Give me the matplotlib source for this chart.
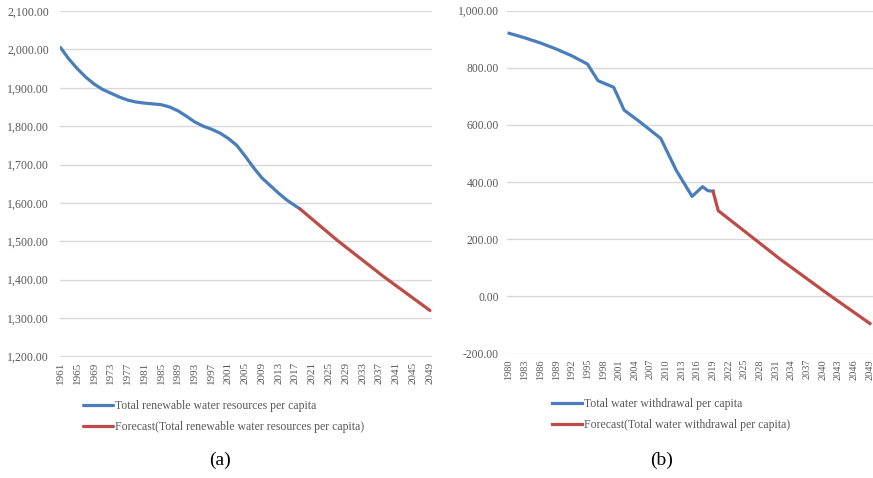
import matplotlib.pyplot as plt
from matplotlib.ticker import FuncFormatter

# (a) total renewable water resources per capita
years_a = [1961, 1963, 1965, 1967, 1969, 1971, 1973, 1975, 1977, 1979, 1981, 1983,
           1985, 1987, 1989, 1991, 1993, 1995, 1997, 1999, 2001, 2003, 2005, 2007,
           2009, 2011, 2013, 2015, 2017, 2018]
values_a = [2005, 1975, 1950, 1928, 1910, 1896, 1886, 1876, 1868, 1863, 1860, 1858,
            1856, 1850, 1840, 1826, 1811, 1800, 1792, 1782, 1768, 1750, 1722, 1692,
            1665, 1645, 1625, 1607, 1592, 1585]
fc_years_a = [2018, 2027, 2038, 2049]
fc_values_a = [1585, 1502, 1408, 1320]

# (b) total water withdrawal per capita
years_b = [1980, 1983, 1986, 1989, 1992, 1995, 1997, 2000, 2002, 2005, 2009, 2012,
           2015, 2017, 2018, 2019]
values_b = [921, 905, 887, 866, 842, 813, 755, 732, 652, 611, 553, 440,
            350, 384, 370, 368]
fc_years_b = [2019, 2020, 2032, 2041, 2049]
fc_values_b = [368, 300, 128, 8, -95]

xticks_a = list(range(1961, 2050, 4))
xticks_b = list(range(1980, 2050, 3))

BLUE = '#4a7ebb'
RED = '#be4b48'
GREY = '#595959'
FONT = 'Liberation Serif'

W, H = 873, 478
fig = plt.figure(figsize=(W / 100, H / 100), dpi=100)


def box(x0, x1, ytop, ybot):
    return [x0 / W, 1 - ybot / H, (x1 - x0) / W, (ybot - ytop) / H]


def style(ax, yticks, xticks, ypad, ysize, xsize):
    ax.set_yticks(yticks)
    ax.set_xticks(xticks)
    ax.yaxis.set_major_formatter(FuncFormatter(lambda v, p: f'{v:,.2f}'))
    ax.grid(axis='y', color='#d9d9d9', linewidth=1)
    ax.set_axisbelow(True)
    for s in ax.spines.values():
        s.set_visible(False)
    ax.tick_params(length=0, colors=GREY)
    ax.tick_params(axis='y', pad=ypad, labelsize=ysize)
    ax.tick_params(axis='x', pad=4, labelsize=xsize, rotation=90)
    for lab in ax.get_xticklabels() + ax.get_yticklabels():
        lab.set_family(FONT)


ax1 = fig.add_axes(box(60, 432, 11, 356.5))
ax1.plot(years_a, values_a, color=BLUE, lw=2.3, solid_capstyle='round',
         label='Total renewable water resources per capita')
ax1.plot(fc_years_a, fc_values_a, color=RED, lw=2.3, solid_capstyle='round',
         label='Forecast(Total renewable water resources per capita)')
ax1.set_xlim(1960.9, 2049.5)
ax1.set_ylim(1200, 2100)
style(ax1, range(1200, 2101, 100), xticks_a, 8, 8.6, 8)

ax2 = fig.add_axes(box(507, 873, 10.7, 353.5))
ax2.plot(years_b, values_b, color=BLUE, lw=2.3,
         label='Total water withdrawal per capita')
ax2.plot(fc_years_b, fc_values_b, color=RED, lw=2.3,
         label='Forecast(Total water withdrawal per capita)')
ax2.set_xlim(1979.6, 2049.6)
ax2.set_ylim(-200, 1000)
style(ax2, range(-200, 1001, 200), xticks_b, 6, 8.4, 7.4)

legend_kw = dict(loc='upper left', frameon=False, borderpad=0, borderaxespad=0,
                 handlelength=2.5, handletextpad=0.2, labelspacing=0.8,
                 labelcolor=GREY, prop={'family': FONT, 'size': 8.5})
ax1.legend(bbox_to_anchor=(83 / W, 1 - 400 / H), bbox_transform=fig.transFigure,
           **legend_kw)
ax2.legend(bbox_to_anchor=(552 / W, 1 - 398 / H), bbox_transform=fig.transFigure,
           **legend_kw)

fig.text(220 / W, 1 - 460 / H, '(a)', ha='center', va='center',
         family=FONT, size=14)
fig.text(662 / W, 1 - 460 / H, '(b)', ha='center', va='center',
         family=FONT, size=14)

fig.savefig('out.png', dpi=100)
